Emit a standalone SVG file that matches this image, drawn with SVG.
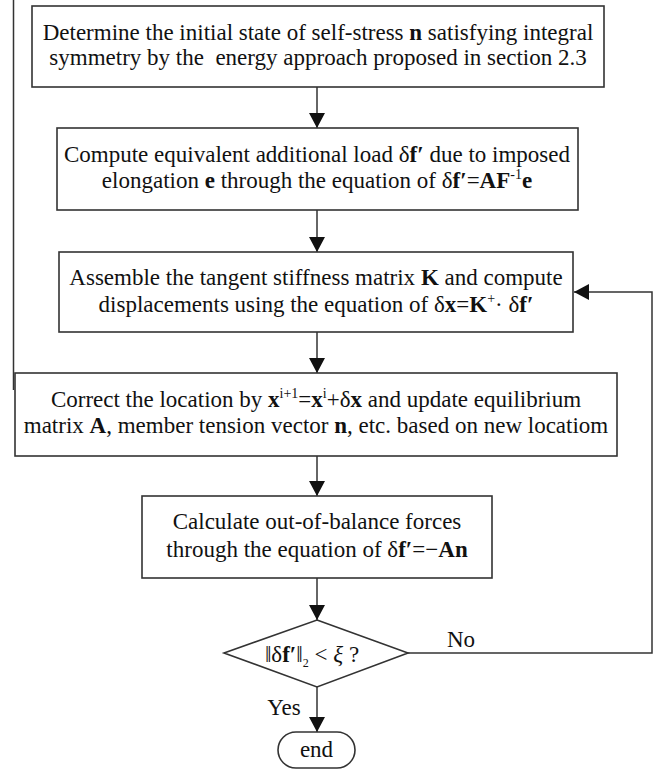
<svg xmlns="http://www.w3.org/2000/svg" width="659" height="774" viewBox="0 0 659 774">
<style>
.box{fill:#fff;stroke:#333;stroke-width:1.6}
.t{font-family:"Liberation Serif","Times New Roman",serif;font-size:23px;fill:#111;text-anchor:middle}
.b{font-weight:bold}
.ln{fill:none;stroke:#333;stroke-width:1.5}
</style>
<defs>
<marker id="ah" markerUnits="userSpaceOnUse" markerWidth="16" markerHeight="16" viewBox="0 0 16 16" refX="15" refY="8" orient="auto">
<path d="M0,0 L15,8 L0,16 Z" fill="#111"/>
</marker>
</defs>
<rect width="659" height="774" fill="#fff"/>
<line x1="13.5" y1="0" x2="13.5" y2="390" class="ln"/>
<g id="connectors">
<line x1="317" y1="87" x2="317" y2="128" class="ln" marker-end="url(#ah)"/>
<line x1="317" y1="210" x2="317" y2="252" class="ln" marker-end="url(#ah)"/>
<line x1="317" y1="332" x2="317" y2="373" class="ln" marker-end="url(#ah)"/>
<line x1="317" y1="456" x2="317" y2="496" class="ln" marker-end="url(#ah)"/>
<line x1="317" y1="578" x2="317" y2="620" class="ln" marker-end="url(#ah)"/>
<line x1="317" y1="687" x2="317" y2="732" class="ln" marker-end="url(#ah)"/>
<polyline points="408,653 652,653 652,292 574,292" class="ln" marker-end="url(#ah)"/>
<text x="461" y="647" class="t" font-size="21">No</text>
<text x="284" y="715" class="t">Yes</text>
</g>
<g id="n1">
<rect x="32" y="6" width="572" height="81" class="box"/>
<text x="318" y="40" class="t">Determine the initial state of self-stress <tspan class="b">n</tspan> satisfying integral</text>
<text x="318" y="65" class="t" xml:space="preserve">symmetry by the  energy approach proposed in section 2.3</text>
</g>
<g id="n2">
<rect x="57" y="128" width="521" height="82" class="box"/>
<text x="317" y="162" class="t">Compute equivalent additional load δ<tspan class="b">f′</tspan> due to imposed</text>
<text x="317" y="188" class="t">elongation <tspan class="b">e</tspan> through the equation of δ<tspan class="b">f′</tspan>=<tspan class="b">AF</tspan><tspan dy="-9" font-size="14">-1</tspan><tspan dy="9" class="b">e</tspan></text>
</g>
<g id="n3">
<rect x="59" y="252" width="514" height="80" class="box"/>
<text x="316" y="285" class="t">Assemble the tangent stiffness matrix <tspan class="b">K</tspan> and compute</text>
<text x="316" y="312" class="t">displacements using the equation of δ<tspan class="b">x</tspan>=<tspan class="b">K</tspan><tspan dy="-9" font-size="14">+</tspan><tspan dy="9">· δ</tspan><tspan class="b">f′</tspan></text>
</g>
<g id="n4">
<rect x="15" y="373" width="602" height="83" class="box"/>
<text x="316" y="407" class="t">Correct the location by <tspan class="b">x</tspan><tspan dy="-9" font-size="14">i+1</tspan><tspan dy="9">=</tspan><tspan class="b">x</tspan><tspan dy="-9" font-size="14">i</tspan><tspan dy="9">+δ</tspan><tspan class="b">x</tspan> and update equilibrium</text>
<text x="316" y="433" class="t">matrix <tspan class="b">A</tspan>, member tension vector <tspan class="b">n</tspan>, etc. based on new locatiom</text>
</g>
<g id="n5">
<rect x="142" y="496" width="350" height="82" class="box"/>
<text x="317" y="529" class="t">Calculate out-of-balance forces</text>
<text x="317" y="557" class="t">through the equation of δ<tspan class="b">f′</tspan>=−<tspan class="b">An</tspan></text>
</g>
<g id="n6">
<polygon points="317,620 408,653 317,687 224,653" class="box"/>
<text x="312" y="662" class="t" font-size="20">‖δ<tspan class="b">f′</tspan>‖<tspan dy="5" font-size="12">2</tspan><tspan dy="-5"> &lt; </tspan><tspan font-style="italic">ξ</tspan> ?</text>
</g>
<g id="n7">
<rect x="278" y="732" width="77" height="36" rx="18" ry="18" class="box"/>
<text x="316.5" y="757" class="t">end</text>
</g>
</svg>
